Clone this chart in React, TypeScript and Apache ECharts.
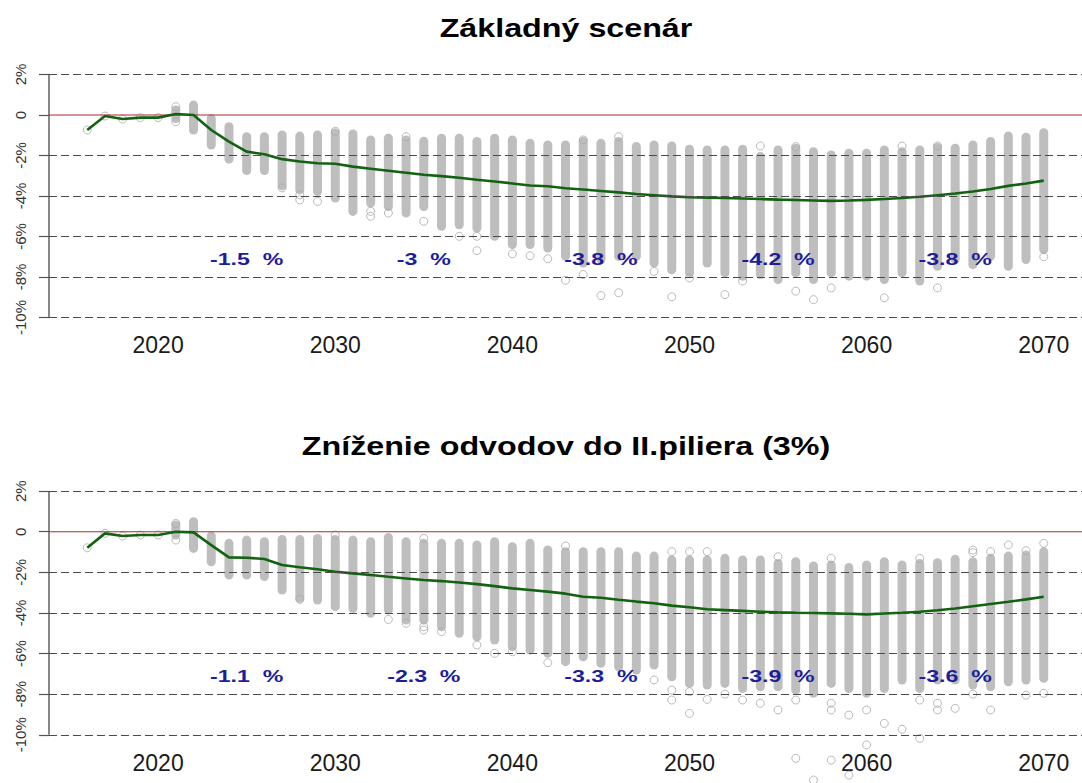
import React, { useEffect, useRef } from "react";
import * as echarts from "echarts";

const TITLE_1 = "Základný scenár";
const TITLE_2 = "Zníženie odvodov do II.piliera (3%)";

const years = [
  2016, 2017, 2018, 2019, 2020, 2021, 2022, 2023, 2024, 2025, 2026, 2027, 2028, 2029, 2030,
  2031, 2032, 2033, 2034, 2035, 2036, 2037, 2038, 2039, 2040, 2041, 2042, 2043, 2044, 2045,
  2046, 2047, 2048, 2049, 2050, 2051, 2052, 2053, 2054, 2055, 2056, 2057, 2058, 2059, 2060,
  2061, 2062, 2063, 2064, 2065, 2066, 2067, 2068, 2069, 2070,
];

const xTicks = [2020, 2030, 2040, 2050, 2060, 2070];
const yTicks = [-10, -8, -6, -4, -2, 0, 2];
const yTickLabels = ["-10%", "-8%", "-6%", "-4%", "-2%", "0", "2%"];
const dashedLevels = [2, -2, -4, -6, -8, -10];

// Panel 1 – Základný scenár
const median1 = [
  -0.74, -0.05, -0.2, -0.13, -0.13, 0.05, 0.0, -0.74, -1.31, -1.81, -1.94, -2.18, -2.3, -2.38, -2.41,
  -2.55, -2.65, -2.75, -2.85, -2.95, -3.02, -3.1, -3.2, -3.28, -3.38, -3.48, -3.52, -3.62, -3.68, -3.75,
  -3.82, -3.9, -3.96, -4.02, -4.06, -4.08, -4.1, -4.12, -4.15, -4.18, -4.2, -4.22, -4.24, -4.22, -4.19,
  -4.15, -4.1, -4.04, -3.96, -3.88, -3.78, -3.65, -3.5, -3.38, -3.24,
];
const hi1 = [
  null, null, null, null, null, 0.25, 0.49, -0.17, -0.58, -1.07, -1.07, -0.99, -1.04, -0.99, -0.87,
  -0.94, -1.23, -1.15, -1.23, -1.3, -1.15, -1.15, -1.31, -1.15, -1.23, -1.4, -1.48, -1.48, -1.3, -1.4,
  -1.31, -1.56, -1.48, -1.53, -1.69, -1.73, -1.73, -1.69, -2.05, -1.73, -1.64, -1.81, -1.97, -1.89, -1.89,
  -1.73, -1.81, -1.73, -1.6, -1.64, -1.48, -1.31, -1.04, -1.1, -0.87,
];
const lo1 = [
  null, null, null, null, null, -0.17, -0.74, -1.48, -2.18, -2.74, -2.74, -3.5, -3.7, -3.78, -4.1,
  -4.76, -4.35, -4.52, -4.84, -4.52, -5.5, -5.42, -5.58, -5.99, -6.4, -6.4, -6.57, -6.98, -7.31, -7.14,
  -6.98, -6.98, -7.31, -7.64, -7.8, -7.31, -7.8, -7.96, -7.88, -8.13, -7.8, -8.13, -7.8, -7.96, -7.96,
  -8.13, -7.8, -8.2, -7.47, -7.14, -7.39, -6.98, -7.47, -7.14, -6.65,
];
const points1 = [
  [2016, -0.74], [2017, -0.05], [2018, -0.2], [2019, -0.13], [2020, -0.13],
  [2021, 0.41], [2021, -0.33], [2027, -3.6], [2028, -3.94], [2028, -4.19], [2029, -4.27],
  [2030, -0.8], [2032, -4.76], [2032, -5.0], [2033, -4.84], [2034, -1.07], [2035, -5.25],
  [2037, -5.99], [2038, -5.99], [2038, -6.7], [2040, -6.86], [2041, -6.95], [2042, -7.1],
  [2043, -8.16], [2044, -7.88], [2044, -1.23], [2045, -8.92], [2046, -1.07], [2046, -8.78],
  [2048, -7.72], [2049, -8.98], [2050, -8.05], [2052, -8.87], [2053, -8.2], [2054, -1.53],
  [2056, -8.7], [2056, -1.56], [2057, -9.12], [2058, -8.54], [2061, -9.03], [2062, -1.53],
  [2064, -8.54], [2064, -1.53], [2070, -7.0],
];
const notes1 = ["-1.5  %", "-3  %", "-3.8  %", "-4.2  %", "-3.8  %"];

// Panel 2 – Zníženie odvodov do II.piliera (3%)
const median2 = [
  -0.79, -0.08, -0.21, -0.16, -0.16, 0.0, -0.03, -0.66, -1.26, -1.28, -1.34, -1.64, -1.75, -1.85, -1.97,
  -2.05, -2.13, -2.22, -2.3, -2.38, -2.43, -2.5, -2.58, -2.68, -2.79, -2.87, -2.95, -3.05, -3.2, -3.25,
  -3.35, -3.44, -3.52, -3.64, -3.72, -3.82, -3.86, -3.9, -3.94, -3.97, -3.99, -4.0, -4.02, -4.04, -4.07,
  -4.03, -3.99, -3.94, -3.87, -3.78, -3.67, -3.56, -3.45, -3.33, -3.2,
];
const hi2 = [
  null, null, null, null, null, 0.33, 0.49, -0.21, -0.57, -0.41, -0.49, -0.38, -0.38, -0.33, -0.38,
  -0.41, -0.49, -0.28, -0.49, -0.57, -0.57, -0.57, -0.65, -0.49, -0.74, -0.57, -0.9, -0.98, -0.98, -0.98,
  -0.98, -1.2, -1.2, -1.39, -1.39, -1.39, -1.31, -1.39, -1.39, -1.56, -1.48, -1.69, -1.64, -1.76, -1.64,
  -1.48, -1.64, -1.56, -1.53, -1.36, -1.48, -1.31, -1.2, -1.15, -0.98,
];
const lo2 = [
  null, null, null, null, null, -0.16, -0.82, -1.48, -2.13, -2.13, -2.21, -2.87, -3.28, -3.36, -3.69,
  -3.78, -4.02, -3.86, -4.35, -4.35, -4.68, -5.0, -5.17, -5.33, -5.66, -5.83, -5.99, -6.4, -6.16, -6.48,
  -6.65, -6.81, -6.57, -7.14, -7.47, -7.55, -7.47, -7.72, -7.64, -7.64, -7.8, -7.96, -7.47, -7.72, -7.96,
  -7.72, -7.3, -7.72, -7.3, -7.3, -7.55, -7.64, -7.39, -7.3, -7.22,
];
const points2 = [
  [2016, -0.79], [2017, -0.08], [2018, -0.21], [2019, -0.16], [2020, -0.16],
  [2021, 0.41], [2021, -0.41], [2028, -3.33], [2030, -0.16], [2033, -4.32], [2034, -4.51],
  [2035, -0.33], [2035, -4.68], [2035, -4.84], [2036, -4.92], [2038, -5.58], [2039, -5.99],
  [2040, -5.91], [2042, -6.45], [2043, -0.7], [2048, -7.3], [2049, -0.98], [2049, -7.8],
  [2049, -8.29], [2050, -0.98], [2050, -7.88], [2050, -8.95], [2051, -0.98], [2051, -8.26],
  [2052, -8.0], [2053, -8.29], [2054, -8.45], [2055, -1.23], [2055, -8.78], [2056, -8.29],
  [2056, -11.16], [2057, -12.23], [2058, -1.31], [2058, -8.45], [2058, -8.78], [2058, -11.25],
  [2059, -9.03], [2059, -11.99], [2060, -8.78], [2060, -10.5], [2061, -9.44], [2062, -9.73],
  [2063, -1.31], [2063, -8.29], [2063, -10.18], [2064, -8.45], [2064, -8.78], [2065, -8.7],
  [2066, -0.9], [2066, -1.03], [2066, -8.0], [2067, -0.98], [2067, -8.78], [2068, -0.65],
  [2069, -0.93], [2069, -8.05], [2070, -0.57], [2070, -7.96],
];
const notes2 = ["-1.1  %", "-2.3  %", "-3.3  %", "-3.9  %", "-3.6  %"];

const noteYears = [2025, 2035, 2045, 2055, 2065];
const noteLevel = -7.1;

const X_MIN = 2013.84;
const X_MAX = 2072.16;
const Y_MIN = -10.48;
const Y_MAX = 2.48;

const COLUMN_GREY = "#bebebe";
const POINT_GREY = "#a9a9a9";
const GREEN = "#126212";
const BLUE = "#1c1c9c";
const ZERO_RED = "#b22a2a";
const AXIS_GREY = "#555555";

function buildPanel(
  gi: number,
  median: number[],
  hi: (number | null)[],
  lo: (number | null)[],
  points: number[][],
  notes: string[]
) {
  const cols: number[][] = [];
  years.forEach((y, i) => {
    if (hi[i] != null && lo[i] != null) cols.push([y, hi[i] as number, lo[i] as number]);
  });
  const line = years.map((y, i) => [y, median[i]]);
  const noteData = noteYears.map((y) => [y, noteLevel]);

  return [
    {
      type: "custom",
      xAxisIndex: gi,
      yAxisIndex: gi,
      z: 2,
      silent: true,
      data: cols,
      encode: { x: 0, y: [1, 2] },
      renderItem: (params: any, api: any) => {
        const x = api.value(0);
        const p1 = api.coord([x, api.value(1)]);
        const p2 = api.coord([x, api.value(2)]);
        const w = 9;
        return {
          type: "rect",
          shape: { x: p1[0] - w / 2, y: p1[1] - w / 2, width: w, height: p2[1] - p1[1] + w, r: w / 2 },
          style: { fill: COLUMN_GREY },
        };
      },
    },
    {
      type: "scatter",
      xAxisIndex: gi,
      yAxisIndex: gi,
      z: 2,
      silent: true,
      clip: false,
      symbol: "circle",
      symbolSize: 8,
      itemStyle: { color: "rgba(255,255,255,0)", borderColor: POINT_GREY, borderWidth: 1 },
      data: points,
    },
    {
      type: "line",
      xAxisIndex: gi,
      yAxisIndex: gi,
      z: 3,
      silent: true,
      data: [],
      markLine: {
        silent: true,
        symbol: ["none", "none"],
        label: { show: false },
        lineStyle: { color: "#4a4a4a", type: [8, 4], width: 1.1 },
        data: dashedLevels.map((v) => ({ yAxis: v })),
      },
    },
    {
      // red reference line at 0 and the left axis line (from the first to the last tick)
      type: "custom",
      xAxisIndex: gi,
      yAxisIndex: gi,
      z: 3,
      silent: true,
      clip: false,
      data: [[0]],
      renderItem: (params: any, api: any) => {
        const a = api.coord([X_MIN, 0]);
        const b = api.coord([X_MAX, 0]);
        const t = api.coord([X_MIN, yTicks[yTicks.length - 1]]);
        const u = api.coord([X_MIN, yTicks[0]]);
        return {
          type: "group",
          children: [
            {
              type: "line",
              shape: { x1: a[0], y1: a[1], x2: b[0], y2: b[1] },
              style: { stroke: ZERO_RED, lineWidth: 1.2 },
            },
            {
              type: "line",
              shape: { x1: t[0], y1: t[1], x2: u[0], y2: u[1] },
              style: { stroke: AXIS_GREY, lineWidth: 1.4 },
            },
          ],
        };
      },
    },
    {
      type: "line",
      xAxisIndex: gi,
      yAxisIndex: gi,
      z: 4,
      silent: true,
      symbol: "none",
      lineStyle: { color: GREEN, width: 2.6 },
      data: line,
    },
    {
      type: "custom",
      xAxisIndex: gi,
      yAxisIndex: gi,
      z: 5,
      silent: true,
      data: noteData,
      renderItem: (params: any, api: any) => {
        const p = api.coord([api.value(0), api.value(1)]);
        return {
          type: "text",
          x: p[0],
          y: p[1],
          scaleX: 1.36,
          style: {
            text: notes[params.dataIndex],
            textAlign: "center",
            textVerticalAlign: "middle",
            font: 'bold 17px "Liberation Sans", Arial, sans-serif',
            fill: BLUE,
          },
        };
      },
    },
  ];
}

function xAxisFor(gi: number, margin: number) {
  return {
    type: "value",
    gridIndex: gi,
    min: X_MIN,
    max: X_MAX,
    axisLine: { show: false, onZero: false },
    axisTick: { show: false },
    splitLine: { show: false },
    axisLabel: {
      customValues: xTicks,
      margin,
      fontSize: 23,
      color: "#1a1a1a",
      fontFamily: '"Liberation Sans", Arial, sans-serif',
      formatter: (v: number) => String(Math.round(v)),
    },
  };
}

function yAxisFor(gi: number) {
  return {
    type: "value",
    gridIndex: gi,
    min: Y_MIN,
    max: Y_MAX,
    axisLine: { show: false },
    splitLine: { show: false },
    axisTick: {
      show: true,
      customValues: yTicks,
      length: 10,
      lineStyle: { color: AXIS_GREY, width: 1.2 },
    },
    axisLabel: {
      customValues: yTicks,
      rotate: 90,
      margin: 21,
      fontSize: 15,
      color: "#333",
      fontFamily: '"Liberation Sans", Arial, sans-serif',
      formatter: (v: number) => {
        const idx = yTicks.indexOf(Math.round(v));
        return idx >= 0 ? yTickLabels[idx] : "";
      },
    },
  };
}

export default function App() {
  const ref = useRef<HTMLDivElement>(null);

  useEffect(() => {
    if (!ref.current) return;
    const chart = echarts.init(ref.current, null, { renderer: "svg" });
    const titleFont = 'bold 25px "Liberation Sans", Arial, sans-serif';
    chart.setOption({
      animation: false,
      backgroundColor: "#ffffff",
      graphic: [
        {
          type: "text",
          x: 566,
          y: 28.5,
          scaleX: 1.29,
          silent: true,
          style: { text: TITLE_1, font: titleFont, fill: "#000", textAlign: "center", textVerticalAlign: "middle" },
        },
        {
          type: "text",
          x: 566,
          y: 446.5,
          scaleX: 1.29,
          silent: true,
          style: { text: TITLE_2, font: titleFont, fill: "#000", textAlign: "center", textVerticalAlign: "middle" },
        },
      ],
      grid: [
        { left: 49, top: 64.8, width: 1037, height: 262.4 },
        { left: 49, top: 481.4, width: 1037, height: 263.1 },
      ],
      xAxis: [xAxisFor(0, 6), xAxisFor(1, 7)],
      yAxis: [yAxisFor(0), yAxisFor(1)],
      series: [
        ...buildPanel(0, median1, hi1, lo1, points1, notes1),
        ...buildPanel(1, median2, hi2, lo2, points2, notes2),
      ],
    });
    return () => chart.dispose();
  }, []);

  return (
    <div
      ref={ref}
      style={{ position: "absolute", left: 0, top: 0, width: 1082, height: 783, background: "#fff" }}
    />
  );
}
